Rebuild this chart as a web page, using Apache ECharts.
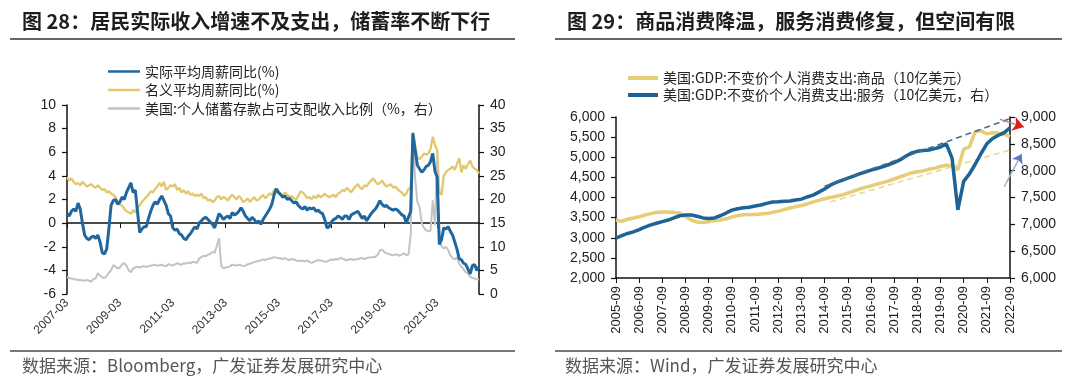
<!DOCTYPE html>
<html><head><meta charset="utf-8">
<script src="https://cdn.jsdelivr.net/npm/echarts@6/dist/echarts.min.js"></script>
<style>html,body{margin:0;padding:0;background:#fff}#c{width:1080px;height:386px}</style>
</head><body><div id="c"></div>
<script>
// ---------- categories ----------
function monthSeq(y0, m0, y1, m1, step) {
  const out = []; let y = y0, m = m0;
  while (y < y1 || (y === y1 && m <= m1)) {
    out.push(y + '-' + String(m).padStart(2, '0'));
    m += step; while (m > 12) { m -= 12; y++; }
  }
  return out;
}
const leftCategories = monthSeq(2007, 3, 2022, 10, 1);   // monthly
const rightCategories = monthSeq(2005, 9, 2022, 9, 3);   // quarterly

// ---------- left chart series (monthly, 2007-03 .. 2022-10) ----------
const realWageYoY = [
 0.85,0.6,1.0,1.2,1.0,1.7,1.2,0.0,-1.0,-1.3,-1.4,-1.2,
 -1.1,-1.3,-1.0,-1.6,-2.5,-2.6,-2.2,-0.5,1.5,1.9,2.0,1.6,
 1.8,2.2,2.0,2.6,3.0,3.4,2.6,2.8,1.0,-0.8,-0.5,-0.3,
 -0.3,0.4,1.0,1.5,1.8,1.6,2.0,2.3,1.9,1.5,0.8,0.6,
 -0.4,-0.6,-0.5,-0.9,-1.0,-1.3,-1.4,-1.1,-0.9,-0.6,-0.3,-0.5,
 0.0,0.2,0.4,0.5,0.3,0.1,-0.1,-0.4,0.2,0.8,0.6,0.3,
 0.5,0.6,0.4,0.9,0.7,0.8,1.0,1.3,1.0,0.6,0.4,0.2,
 0.5,0.3,0.0,0.2,-0.1,0.3,0.6,0.9,1.2,1.6,2.4,2.9,
 2.6,2.4,2.2,2.3,2.0,2.1,1.9,1.7,1.8,1.5,1.3,1.2,
 1.4,1.1,1.3,1.2,1.3,1.0,1.1,0.9,0.8,0.3,-0.4,-0.3,
 0.1,0.3,0.4,0.6,0.5,0.3,0.6,0.6,0.3,0.7,0.8,0.9,
 1.0,0.7,0.4,0.6,0.2,0.5,0.8,1.0,1.2,1.5,1.9,1.6,
 1.4,1.5,1.3,1.2,1.1,1.2,1.1,0.9,0.7,0.6,0.0,0.5,
 1.0,7.6,6.2,4.9,4.6,4.3,4.5,4.8,4.9,5.2,5.9,4.4,
 3.9,-1.8,-1.4,-0.4,-0.5,-0.3,-0.7,-1.0,-1.6,-2.2,-3.0,-3.1,
 -3.4,-3.5,-3.9,-4.3,-3.6,-3.5,-4.0,-3.7
];
const nominalWageYoY = [
 3.9,3.6,3.8,3.5,3.3,3.4,3.2,3.5,3.3,3.1,3.2,3.3,
 3.1,3.0,3.2,3.0,2.8,2.9,2.6,2.7,2.5,2.4,2.2,1.8,
 1.6,1.5,1.2,1.0,0.9,0.8,1.1,0.9,1.3,1.5,1.8,2.0,
 2.2,2.4,2.7,2.6,2.9,3.1,3.4,3.1,3.5,2.8,3.0,3.2,
 3.1,3.3,2.8,3.0,2.6,2.8,2.5,2.7,2.4,2.5,2.3,2.4,
 2.3,2.5,2.1,2.2,1.9,2.0,1.8,1.9,2.2,2.3,2.0,2.2,
 2.1,1.9,2.2,2.4,2.2,2.0,2.3,2.1,1.8,1.9,2.1,1.8,
 2.0,2.2,1.9,2.0,2.2,2.4,2.1,2.3,2.5,2.4,2.8,2.9,
 2.6,2.5,2.3,2.6,2.4,2.2,2.3,2.1,2.0,2.3,2.7,2.6,
 2.4,2.1,2.2,2.0,2.3,2.1,2.4,2.2,2.3,2.5,2.3,2.2,
 2.3,2.4,2.2,2.5,2.6,2.8,2.7,3.0,2.8,2.6,2.9,3.1,
 3.3,3.0,2.9,3.2,3.1,3.4,3.6,3.8,3.5,3.3,3.4,3.6,
 3.3,3.1,3.2,3.3,3.0,3.1,2.9,2.7,2.6,2.3,2.5,2.9,
 3.0,7.7,6.6,5.6,5.4,5.6,5.9,5.8,5.9,6.3,7.3,6.6,
 6.2,2.6,2.4,4.0,4.3,4.5,4.6,4.8,4.5,5.0,5.5,4.3,
 4.9,4.6,5.0,5.3,4.8,4.6,4.5,4.2
];
const savingRate = [
 3.6,3.4,3.3,3.2,3.0,3.0,2.9,2.9,2.8,3.0,2.8,2.6,
 3.2,3.3,4.4,3.9,3.5,3.4,3.8,4.5,5.0,6.1,5.8,5.4,
 5.6,6.3,6.5,6.0,5.0,4.6,5.4,5.6,5.8,5.6,5.8,5.9,
 5.7,5.9,6.0,6.1,6.2,6.0,6.1,6.2,6.0,5.9,6.3,6.2,
 6.0,6.3,6.5,6.3,6.2,6.5,6.4,6.7,6.5,6.8,6.7,6.6,
 7.5,7.8,8.1,8.0,8.3,8.5,8.9,8.7,10.2,11.8,6.0,5.4,
 5.6,5.7,5.9,6.2,6.1,6.0,6.2,6.1,5.9,6.0,6.3,6.4,
 6.6,6.8,6.9,7.0,7.1,7.3,7.2,7.4,7.5,7.6,7.8,7.7,
 7.6,7.5,7.4,7.6,7.3,7.2,7.4,7.3,7.1,7.0,7.1,7.0,
 6.9,7.1,6.8,6.6,6.8,7.0,7.2,7.1,7.0,6.8,6.9,7.1,
 7.3,7.2,7.4,7.3,7.6,7.5,7.3,7.1,7.3,7.4,7.2,7.3,
 7.4,7.5,7.6,7.4,7.6,7.7,7.8,7.8,7.9,8.3,9.2,9.4,
 8.9,8.6,8.5,8.3,8.2,8.4,8.3,8.1,8.4,8.6,8.2,8.4,
 12.5,33.8,24.5,19.5,18.5,15.0,14.0,13.5,13.3,13.4,19.8,14.5,
 28.5,11.0,10.2,9.6,10.0,9.3,8.2,7.6,7.3,7.8,6.4,5.8,
 5.2,4.6,4.4,3.6,3.4,3.3,3.1,3.0
];

// ---------- right chart series (quarterly, 2005-09 .. 2022-09) ----------
const goodsPCE = [
 3441,3410,3460,3490,3520,3565,3600,3630,3640,3640,3630,3615,
 3530,3440,3390,3380,3400,3430,3440,3470,3515,3550,3570,3575,
 3580,3590,3600,3630,3660,3700,3740,3770,3800,3840,3890,3930,
 3970,4000,4030,4060,4110,4160,4210,4250,4290,4330,4370,4410,
 4460,4510,4560,4610,4640,4660,4700,4730,4770,4800,4790,4690,
 5200,5260,5640,5660,5580,5610,5600,5570,5510
];
const servicesPCE = [
 6745,6790,6830,6860,6900,6950,6990,7020,7050,7080,7120,7160,
 7175,7175,7150,7120,7110,7120,7160,7210,7265,7290,7310,7320,
 7340,7360,7390,7415,7420,7430,7435,7455,7470,7510,7545,7600,
 7660,7730,7780,7820,7860,7900,7940,7975,8010,8040,8070,8110,
 8150,8200,8270,8330,8360,8375,8385,8410,8440,8500,8235,7270,
 7800,7940,8120,8320,8500,8600,8660,8710,8800
];
// trend lines, [quarter index, value]
const goodsTrend = [[37, 3890], [70.5, 5284]];
const servicesTrend = [[36, 7710], [69.7, 9036]];
// annotation arrows, [quarter index, services value]
const redArrowLine = [[66.3, 8955], [70.0, 8825]];
const redArrowHead = [[69.4, 8846], [70.4, 8812]];
const blueArrowLine = [[67.0, 7700], [69.8, 8270]];
const blueArrowHead = [[69.4, 8190], [70.0, 8310]];

// ---------- tick settings ----------
const leftAxisL = {min: -6, max: 10, interval: 2};
const leftAxisR = {min: 0, max: 40, interval: 5};
const rightAxisL = {min: 2000, max: 6000, interval: 500};
const rightAxisR = {min: 6000, max: 9000, interval: 500};

const N = {
  real: '实际平均周薪同比(%)',
  nominal: '名义平均周薪同比(%)',
  saving: '美国:个人储蓄存款占可支配收入比例（%，右）',
  goods: '美国:GDP:不变价个人消费支出:商品（10亿美元）',
  services: '美国:GDP:不变价个人消费支出:服务（10亿美元，右）'
};
const C = {blue: '#1f679e', yellow: '#e2c76c', gray: '#c3c3c3', blue2: '#1d6396', yellow2: '#e6cd78'};
const NUM = '"Liberation Sans", Arial, "Noto Sans CJK SC", sans-serif';
const CJK = '"Noto Sans CJK SC", "Liberation Sans", sans-serif';
const comma = v => String(v).replace(/\B(?=(\d{3})+(?!\d))/g, ',');

function yAx(grid, pos, cfg, fmt) {
  return Object.assign({
    type: 'value', gridIndex: grid, position: pos,
    axisLine: {show: true, onZero: false, lineStyle: {color: '#111', width: 1.5}},
    axisTick: {show: true, length: 5, lineStyle: {color: '#111', width: 1.2}},
    splitLine: {show: false},
    axisLabel: {fontSize: 14, color: '#222', fontFamily: NUM, margin: 11, formatter: fmt}
  }, cfg);
}

const chart = echarts.init(document.getElementById('c'));
chart.setOption({
  animation: false,
  backgroundColor: '#fff',
  grid: [
    {left: 67, top: 105, width: 412, height: 189},
    {left: 616, top: 117, width: 394, height: 161}
  ],
  legend: [
    {data: [N.real, N.nominal, N.saving], left: 103, top: 59, orient: 'vertical',
     icon: 'rect', itemWidth: 32, itemHeight: 2.5, itemGap: 3.5,
     textStyle: {fontSize: 14, lineHeight: 15, color: '#222', fontFamily: CJK}},
    {data: [N.goods, N.services], left: 623, top: 65.5, orient: 'vertical',
     icon: 'rect', itemWidth: 30, itemHeight: 4, itemGap: 2,
     textStyle: {fontSize: 14, lineHeight: 15, color: '#222', fontFamily: CJK}}
  ],
  xAxis: [
    {type: 'category', gridIndex: 0, data: leftCategories, boundaryGap: false, position: 'bottom',
     axisLine: {onZero: true, onZeroAxisIndex: 0, lineStyle: {color: '#111', width: 1.5}},
     axisTick: {show: true, interval: 23, length: 5, lineStyle: {color: '#111'}},
     axisLabel: {show: false}, splitLine: {show: false}},
    {type: 'category', gridIndex: 0, data: leftCategories, boundaryGap: false, position: 'bottom',
     axisLine: {show: false, onZero: false}, axisTick: {show: false}, splitLine: {show: false},
     axisLabel: {interval: 23, rotate: 45, fontSize: 12, color: '#333', fontFamily: NUM, margin: 7}},
    {type: 'category', gridIndex: 1, data: rightCategories, boundaryGap: false, position: 'bottom',
     axisLine: {onZero: false, lineStyle: {color: '#111', width: 1.5}},
     axisTick: {show: true, interval: 3, length: 5, lineStyle: {color: '#111'}},
     axisLabel: {interval: 3, rotate: 90, fontSize: 13, color: '#222', fontFamily: NUM, margin: 8},
     splitLine: {show: false}},
    {type: 'value', gridIndex: 1, min: 0, max: rightCategories.length - 1, show: false, position: 'top',
     axisLine: {onZero: false}, splitLine: {show: false}}
  ],
  yAxis: [
    yAx(0, 'left', leftAxisL),
    yAx(0, 'right', leftAxisR),
    yAx(1, 'left', rightAxisL, comma),
    yAx(1, 'right', rightAxisR, comma)
  ],
  series: [
    {name: N.nominal, type: 'line', xAxisIndex: 0, yAxisIndex: 0, data: nominalWageYoY, symbol: 'none',
     lineStyle: {width: 2.3, color: C.yellow}, itemStyle: {color: C.yellow}, z: 2},
    {name: N.saving, type: 'line', xAxisIndex: 0, yAxisIndex: 1, data: savingRate, symbol: 'none',
     lineStyle: {width: 2, color: C.gray}, itemStyle: {color: C.gray}, z: 3},
    {name: N.real, type: 'line', xAxisIndex: 0, yAxisIndex: 0, data: realWageYoY, symbol: 'none',
     lineStyle: {width: 3, color: C.blue}, itemStyle: {color: C.blue}, z: 4},
    {name: N.goods, type: 'line', xAxisIndex: 2, yAxisIndex: 2, data: goodsPCE, symbol: 'none',
     lineStyle: {width: 3.5, color: C.yellow2}, itemStyle: {color: C.yellow2}, z: 2},
    {name: N.services, type: 'line', xAxisIndex: 2, yAxisIndex: 3, data: servicesPCE, symbol: 'none',
     lineStyle: {width: 3.5, color: C.blue2}, itemStyle: {color: C.blue2}, z: 4},
    {name: 'goodsTrend', type: 'line', xAxisIndex: 3, yAxisIndex: 2, data: goodsTrend, symbol: 'none',
     clip: false, silent: true, lineStyle: {width: 1.6, type: [6, 4], color: '#ecd88f'}, z: 3},
    {name: 'servicesTrend', type: 'line', xAxisIndex: 3, yAxisIndex: 3, data: servicesTrend, symbol: 'none',
     clip: false, silent: true, lineStyle: {width: 1.6, type: [6, 4], color: '#4b6b8c'}, z: 5},
    {type: 'lines', coordinateSystem: 'cartesian2d', xAxisIndex: 3, yAxisIndex: 3, clip: false, silent: true,
     data: [{coords: redArrowLine}], symbol: ['none', 'none'],
     lineStyle: {color: '#b87a95', width: 1.2, opacity: 1, curveness: 0}, z: 6},
    {type: 'lines', coordinateSystem: 'cartesian2d', xAxisIndex: 3, yAxisIndex: 3, clip: false, silent: true,
     data: [{coords: redArrowHead}], symbol: ['none', 'arrow'], symbolSize: 11,
     lineStyle: {color: '#dc2020', width: 1, opacity: 1}, z: 7},
    {type: 'lines', coordinateSystem: 'cartesian2d', xAxisIndex: 3, yAxisIndex: 3, clip: false, silent: true,
     data: [{coords: blueArrowLine}], symbol: ['none', 'none'],
     lineStyle: {color: '#9fb0cf', width: 1.5, opacity: 1}, z: 6},
    {type: 'lines', coordinateSystem: 'cartesian2d', xAxisIndex: 3, yAxisIndex: 3, clip: false, silent: true,
     data: [{coords: blueArrowHead}], symbol: ['none', 'arrow'], symbolSize: 9,
     lineStyle: {color: '#5a78bf', width: 1, opacity: 1}, z: 7}
  ],
  graphic: [
    {type: 'text', left: 22, top: 11, style: {text: '图 28：居民实际收入增速不及支出，储蓄率不断下行',
      font: 'bold 20px "Noto Sans CJK SC", sans-serif', fill: '#1e1e1e'}},
    {type: 'text', left: 567, top: 11, style: {text: '图 29：商品消费降温，服务消费修复，但空间有限',
      font: 'bold 20px "Noto Sans CJK SC", sans-serif', fill: '#1e1e1e'}},
    {type: 'line', shape: {x1: 10, y1: 39, x2: 515, y2: 39}, style: {stroke: '#333', lineWidth: 1.5}},
    {type: 'line', shape: {x1: 555, y1: 39, x2: 1062, y2: 39}, style: {stroke: '#333', lineWidth: 1.5}},
    {type: 'line', shape: {x1: 10, y1: 351, x2: 515, y2: 351}, style: {stroke: '#777', lineWidth: 2}},
    {type: 'line', shape: {x1: 555, y1: 351, x2: 1062, y2: 351}, style: {stroke: '#777', lineWidth: 2}},
    {type: 'text', left: 22, top: 357, style: {text: '数据来源：Bloomberg，广发证券发展研究中心',
      font: '17px "Noto Sans CJK SC", sans-serif', fill: '#555'}},
    {type: 'text', left: 565, top: 357, style: {text: '数据来源：Wind，广发证券发展研究中心',
      font: '17px "Noto Sans CJK SC", sans-serif', fill: '#555'}}
  ]
});
</script>
</body></html>
